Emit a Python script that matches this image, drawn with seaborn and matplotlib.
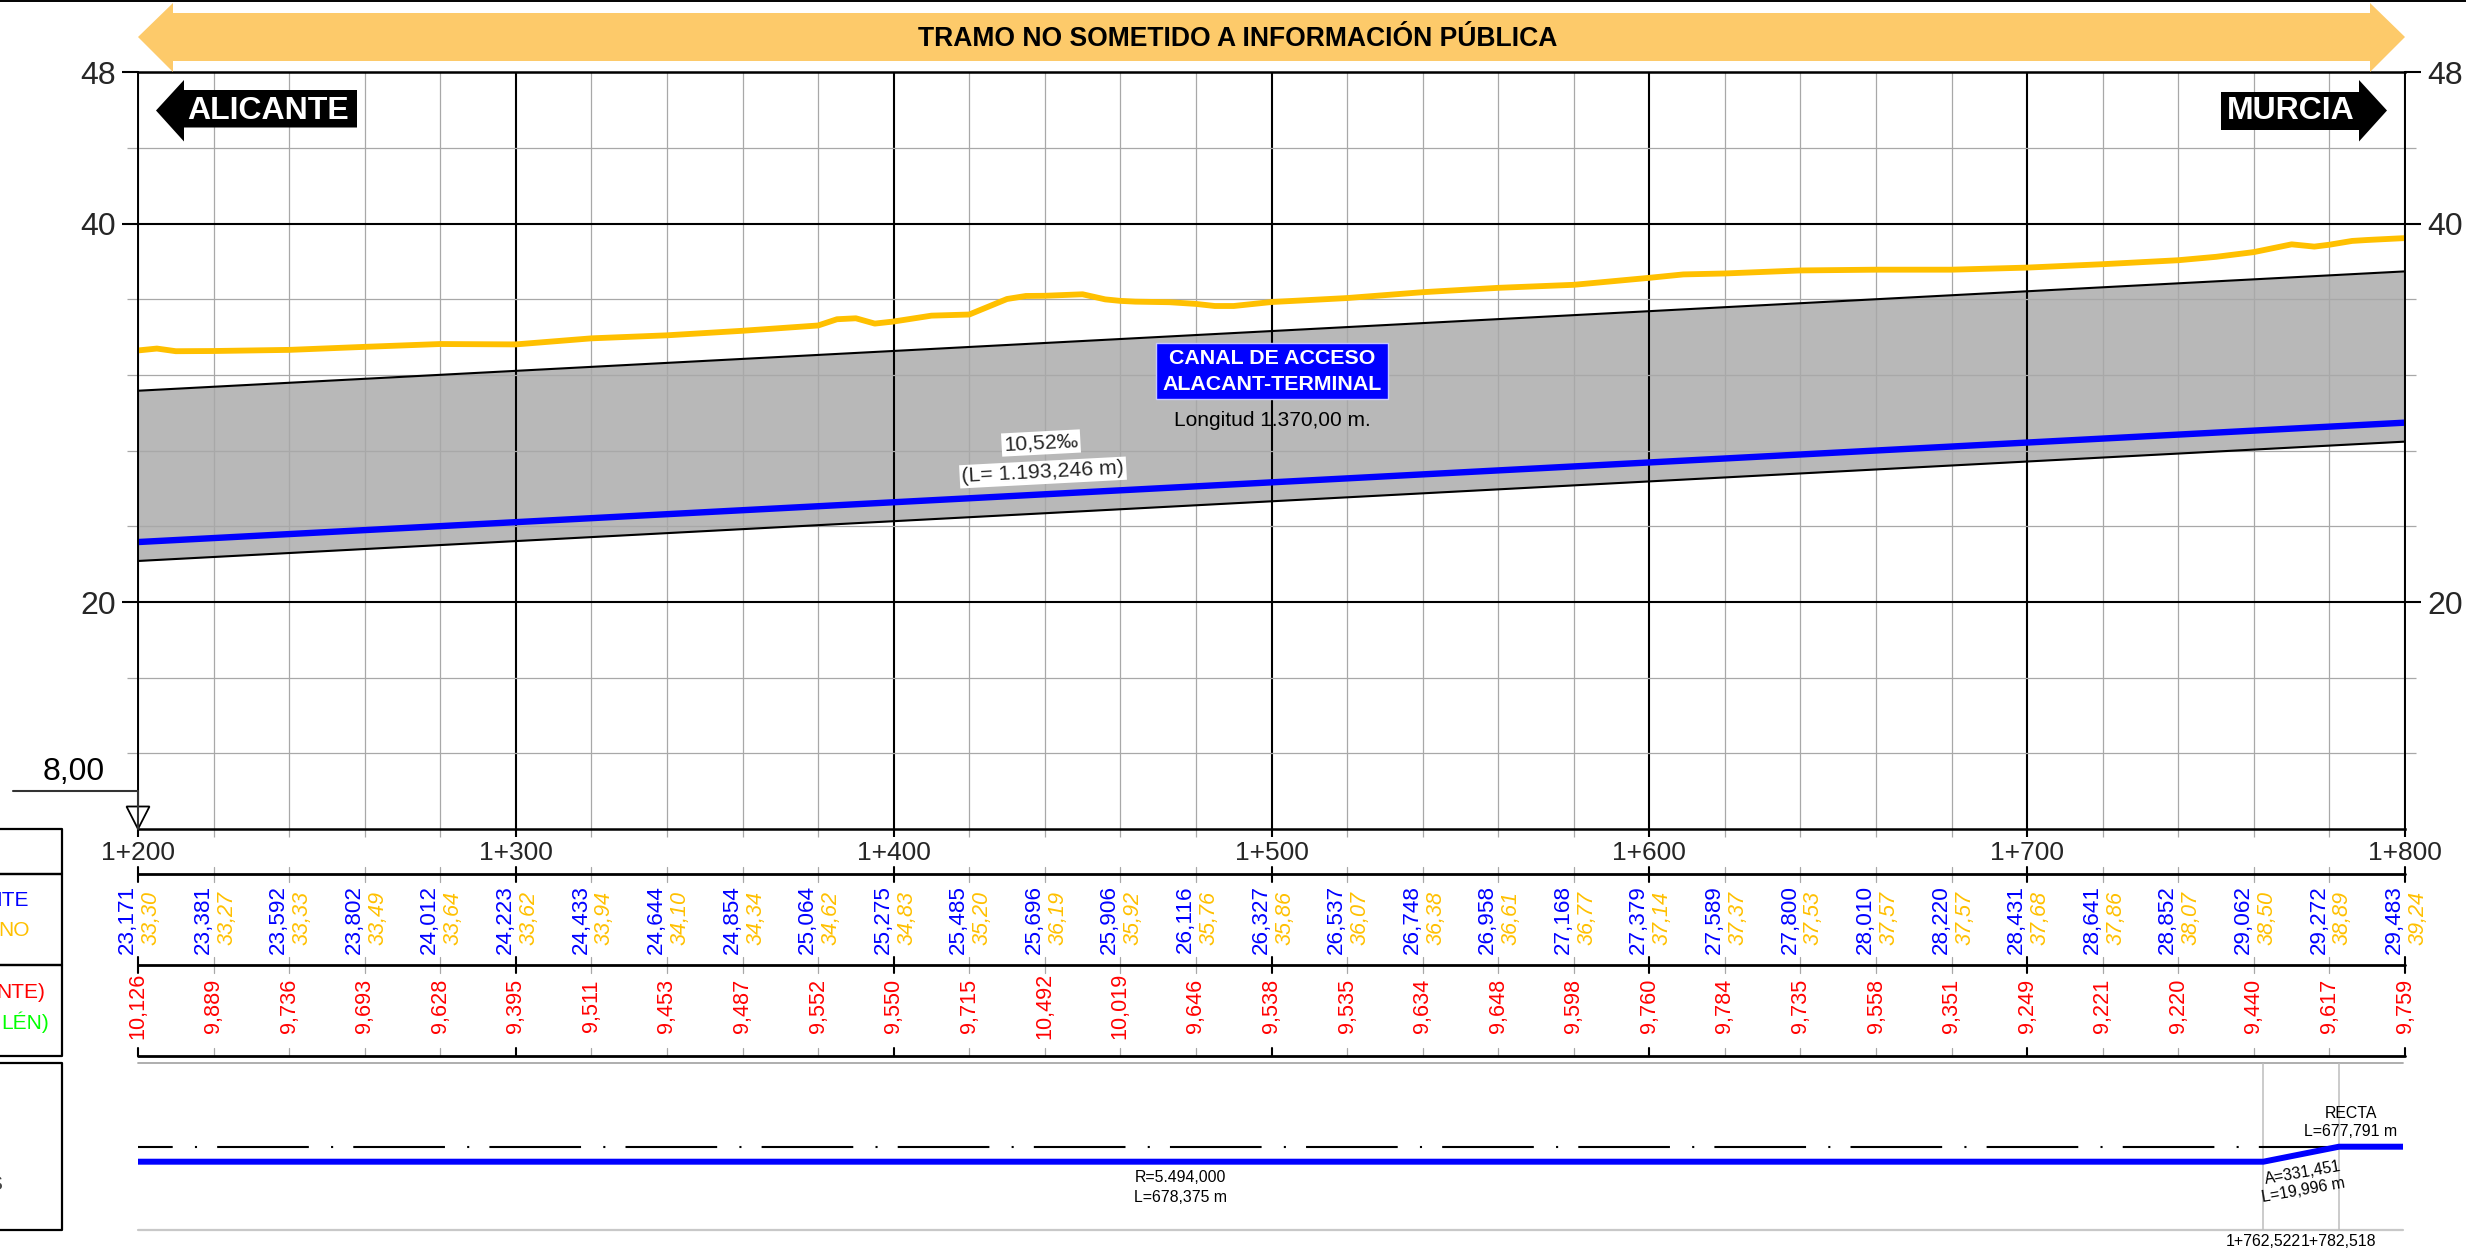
import numpy as np
import pandas as pd
import matplotlib.pyplot as plt
from matplotlib.patches import Polygon, Rectangle
from matplotlib.ticker import FixedLocator, FuncFormatter
import seaborn as sns

# datos del perfil
pk = list(range(1200, 1801, 20))
rasante = [23.171, 23.381, 23.592, 23.802, 24.012, 24.223, 24.433, 24.644, 24.854, 25.064, 25.275,
           25.485, 25.696, 25.906, 26.116, 26.327, 26.537, 26.748, 26.958, 27.168, 27.379,
           27.589, 27.800, 28.010, 28.220, 28.431, 28.641, 28.852, 29.062, 29.272, 29.483]
terreno = [33.30, 33.27, 33.33, 33.49, 33.64, 33.62, 33.94, 34.10, 34.34, 34.62, 34.83,
           35.20, 36.19, 35.92, 35.76, 35.86, 36.07, 36.38, 36.61, 36.77, 37.14,
           37.37, 37.53, 37.57, 37.57, 37.68, 37.86, 38.07, 38.50, 38.89, 39.24]
cota_roja = ["10,126", "9,889", "9,736", "9,693", "9,628", "9,395", "9,511", "9,453", "9,487", "9,552", "9,550",
             "9,715", "10,492", "10,019", "9,646", "9,538", "9,535", "9,634", "9,648", "9,598", "9,760",
             "9,784", "9,735", "9,558", "9,351", "9,249", "9,221", "9,220", "9,440", "9,617", "9,759"]

# puntos intermedios del terreno
terreno_extra_pk = [1205, 1210, 1385, 1390, 1395, 1410, 1430, 1435, 1450, 1456, 1464, 1473, 1485, 1490,
                    1609, 1750, 1770, 1776, 1786, 1790]
terreno_extra_z = [33.40, 33.26, 34.95, 35.00, 34.72, 35.14, 36.02, 36.18, 36.27, 36.00, 35.88, 35.85, 35.65, 35.65,
                   37.32, 38.25, 38.91, 38.79, 39.09, 39.14]

canal_pk = [1200, 1800]
canal_sup = [31.17, 37.48]
canal_inf = [22.17, 28.48]

alin_pk = [1200, 1762.522, 1782.518, 1800]
alin_curv = [-0.182, -0.182, 0, 0]
eje_pk = [1200, 1782.518]
eje_curv = [0, 0]

W, H = 2466, 1250
AZUL, AMARILLO, ROJO, VERDE = "#0000ff", "#ffc000", "#ff0000", "#00ff00"
GRIS = "#a8a8a8"

sns.set_theme(style="white")
plt.rcParams['font.family'] = ['Liberation Sans', 'DejaVu Sans']
plt.rcParams['lines.scale_dashes'] = False

fig = plt.figure(figsize=(W / 100, H / 100), dpi=100)


def axes_px(x0, y0, x1, y1):
    return fig.add_axes([x0 / W, 1 - y1 / H, (x1 - x0) / W, (y1 - y0) / H])


X0, X1 = 138, 2405
m_px = (X1 - X0) / 600

# perfil longitudinal
ax = axes_px(X0, 72.4, X1, 829)
df_t = pd.DataFrame({"pk": pk + terreno_extra_pk, "z": terreno + terreno_extra_z}).sort_values("pk")
ax.fill_between(canal_pk, canal_inf, canal_sup, color="#b8b8b8", lw=0, zorder=1)
sns.lineplot(x=canal_pk, y=canal_sup, ax=ax, color="black", lw=1.5, zorder=4)
sns.lineplot(x=canal_pk, y=canal_inf, ax=ax, color="black", lw=1.5, zorder=4)
sns.lineplot(data=df_t, x="pk", y="z", ax=ax, color=AMARILLO, lw=4.2, zorder=5)
sns.lineplot(x=pk, y=rasante, ax=ax, color=AZUL, lw=4.6, zorder=5)
ax.set_xlim(1200, 1800)
ax.set_ylim(8, 48)
ax.set_xlabel("")
ax.set_ylabel("")
ax.xaxis.set_major_locator(FixedLocator(list(range(1200, 1801, 100))))
ax.xaxis.set_minor_locator(FixedLocator([p for p in pk if p % 100]))
ax.xaxis.set_major_formatter(FuncFormatter(lambda v, _: f"1+{int(v) - 1000}"))
ax.yaxis.set_major_locator(FixedLocator([20, 40, 48]))
ax.yaxis.set_minor_locator(FixedLocator([12, 16, 24, 28, 32, 36, 44]))
ax.set_axisbelow(False)
ax.grid(True, which="major", color="black", lw=1.5)
ax.grid(True, which="minor", color=GRIS, lw=0.9)
ax.tick_params(axis="x", which="major", length=5.5, width=1.5, color="black", labelsize=19, pad=3, bottom=True)
ax.tick_params(axis="x", which="minor", length=5.5, width=0.9, color=GRIS, bottom=True)
ax.tick_params(axis="y", which="major", length=11.5, width=1.5, color="black", labelsize=23, pad=4.6,
               left=True, right=True, labelright=True)
ax.tick_params(axis="y", which="minor", length=8, width=0.9, color=GRIS, left=True, right=True)
for lado, sp in ax.spines.items():
    sp.set_color("black")
    sp.set_linewidth(1.8 if lado in ("bottom", "top") else 1.4)
    sp.set_zorder(6)

# guitarra
ax_g = axes_px(X0, 829, X1, H)
ax_g.set_xlim(1200, 1800)
ax_g.set_ylim(H, 829)
ax_g.axis("off")
for y_fila, a, b in [(874, 867, 882), (965, 957, 973), (1056, 1048, 1056)]:
    ax_g.plot([1200, 1800], [y_fila, y_fila], color="black", lw=2, clip_on=False, zorder=3)
    for p in pk:
        mayor = p % 100 == 0
        ax_g.plot([p, p], [a, b], color="black" if mayor else GRIS, lw=1.5 if mayor else 0.9, clip_on=False)
for p, r, t, c in zip(pk, rasante, terreno, cota_roja):
    ax_g.text(p - 10.5 / m_px, 919.5, f"{r:.3f}".replace(".", ","), color=AZUL, fontsize=16.2, rotation=90,
              ha="center", va="center", clip_on=False)
    ax_g.text(p + 13 / m_px, 918, f"{t:.2f}".replace(".", ","), color=AMARILLO, fontsize=15.6, rotation=90,
              style="italic", ha="center", va="center", clip_on=False)
    ax_g.text(p, 1006, c, color=ROJO, fontsize=15.6, rotation=90, ha="center", va="center", clip_on=False)

# alineaciones
ax_a = axes_px(X0, 1063, 2403, 1230)
ax_a.set_xlim(1200, 1200 + (2403 - X0) / m_px)
ax_a.set_ylim(-1.011, 1.016)
ax_a.axis("off")
ax_a.axhline(1.016, color=GRIS, lw=1.3, clip_on=False)
ax_a.axhline(-1.011, color="#c8c8c8", lw=1.6, clip_on=False)
for p in alin_pk[1:3]:
    ax_a.axvline(p, color="#bdbdbd", lw=1.1)
sns.lineplot(x=eje_pk, y=eje_curv, ax=ax_a, color="black", lw=1.5, zorder=2,
             linestyle=(41, (66, 16, 1.5, 14.5)))
sns.lineplot(x=alin_pk, y=alin_curv, ax=ax_a, color=AZUL, lw=4.3, zorder=3, solid_capstyle="butt")
ax_a.set_xlabel("")
ax_a.set_ylabel("")

# capa en pixeles para rotulos y cajas
ax_f = axes_px(0, 0, W, H)
ax_f.set_xlim(0, W)
ax_f.set_ylim(H, 0)
ax_f.axis("off")
ax_f.set_zorder(10)

ax_f.plot([0, W], [0.8, 0.8], color="black", lw=1.4)
ax_f.add_patch(Polygon([(138, 37), (173, 3), (173, 13), (2370, 13), (2370, 3), (2405, 37),
                        (2370, 72), (2370, 61), (173, 61), (173, 72)], closed=True, fc="#fdca6a", ec="none"))
ax_f.text(1238, 39, "TRAMO NO SOMETIDO A INFORMACIÓN PÚBLICA", fontsize=19.1, fontweight="bold",
          ha="center", va="center", color="black")

ax_f.add_patch(Polygon([(156, 110.5), (184, 80), (184, 90), (357, 90), (357, 127.5), (184, 127.5), (184, 141.5)],
                       closed=True, fc="black", ec="none"))
ax_f.text(268, 111, "ALICANTE", fontsize=23, fontweight="bold", color="white", ha="center", va="center")
ax_f.add_patch(Polygon([(2387, 110.5), (2359, 80), (2359, 92), (2221, 92), (2221, 130), (2359, 130), (2359, 141.5)],
                       closed=True, fc="black", ec="none"))
ax_f.text(2291, 111, "MURCIA", fontsize=23, fontweight="bold", color="white", ha="center", va="center")

ax_f.add_patch(Rectangle((1156, 343), 232, 56, fc=AZUL, ec="#c8c8ff", lw=1))
ax_f.text(1272, 359, "CANAL DE ACCESO", fontsize=15.4, fontweight="bold", color="white", ha="center", va="center")
ax_f.text(1272, 384, "ALACANT-TERMINAL", fontsize=15.4, fontweight="bold", color="white", ha="center", va="center")
ax_f.text(1272, 420, "Longitud 1.370,00 m.", fontsize=15, color="black", ha="center", va="center")
caja = dict(fc="white", ec="none", pad=1.5)
ax_f.text(1041, 443, "10,52‰", fontsize=15.3, rotation=3, ha="center", va="center", bbox=caja)
ax_f.text(1043, 472.5, "(L= 1.193,246 m)", fontsize=15.3, rotation=3, ha="center", va="center", bbox=caja)

# cota de referencia
ax_f.text(74, 772, "8,00", fontsize=23, ha="center", va="center", color="black")
ax_f.plot([13, 138, 138], [791, 791, 829], color="#333333", lw=1.5)
ax_f.add_patch(Polygon([(126.5, 806.5), (149.5, 806.5), (138, 829)], closed=True, fc="white", ec="black", lw=1.3))

# cajas de la izquierda (en el original los rotulos quedan cortados por el borde)
for y0, y1 in [(829, 874), (874, 965), (965, 1056), (1063, 1230)]:
    ax_f.plot([-5, 62, 62, -5], [y0, y0, y1, y1], color="black", lw=1.6)
ax_f.text(29, 901, "ITE", color=AZUL, fontsize=15, ha="right", va="center")
ax_f.text(30, 931, "NO", color=AMARILLO, fontsize=15, ha="right", va="center")
ax_f.text(45, 992, "NTE)", color=ROJO, fontsize=15, ha="right", va="center")
ax_f.text(49, 1022, "LÉN)", color=VERDE, fontsize=15, ha="right", va="center")
ax_f.text(2, 1184, "S", color="#444444", fontsize=15, ha="right", va="center")

# rotulos de alineaciones
ax_f.text(1180, 1178, "R=5.494,000", fontsize=11.4, ha="center", va="center", color="black")
ax_f.text(1180, 1197, "L=678,375 m", fontsize=11.4, ha="center", va="center", color="black")
ax_f.text(2351, 1113, "RECTA", fontsize=11.4, ha="center", va="center", color="black")
ax_f.text(2351, 1131.5, "L=677,791 m", fontsize=11.4, ha="center", va="center", color="black")
ax_f.text(2302.5, 1173, "A=331,451", fontsize=11.4, rotation=10, ha="center", va="center", color="black")
ax_f.text(2303.5, 1190, "L=19,996 m", fontsize=11.4, rotation=10, ha="center", va="center", color="black")
ax_f.text(2263.3, 1241.5, "1+762,522", fontsize=11.4, ha="center", va="center", color="black")
ax_f.text(2338.8, 1241.5, "1+782,518", fontsize=11.4, ha="center", va="center", color="black")

fig.savefig("out.png", dpi=100, facecolor="white")
